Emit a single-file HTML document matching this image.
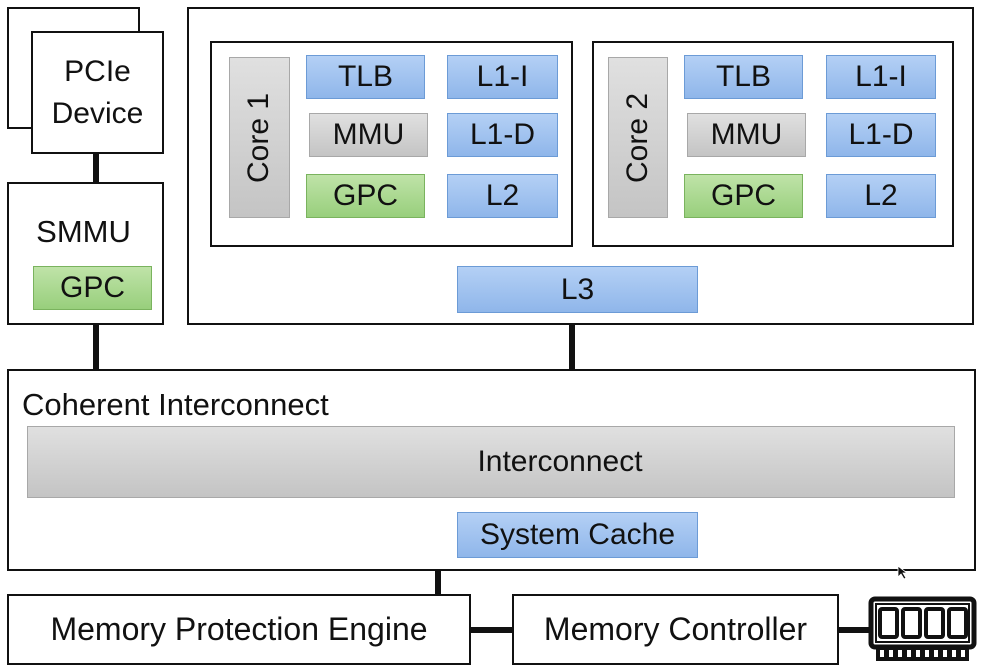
<!DOCTYPE html>
<html><head><meta charset="utf-8"><style>
body{margin:0;width:981px;height:669px;background:#fff;position:relative;overflow:hidden;font-family:"Liberation Sans",sans-serif;color:#111}
.b{position:absolute;box-sizing:border-box;border:2px solid #111;background:#fff}
.c{position:absolute;box-sizing:border-box;display:flex;align-items:center;justify-content:center;font-size:30px;white-space:nowrap}
.bl{background:linear-gradient(#b4d0f5,#8fb6ea);border:1px solid #6c9bd6}
.gr{background:linear-gradient(#e0e0e0,#c4c4c4);border:1px solid #a8a8a8}
.gn{background:linear-gradient(#bfe3a8,#98cf7c);border:1px solid #7ab35e}
.l{position:absolute;background:#111}
</style></head><body>
<div class="b" style="left:7px;top:7px;width:133px;height:122px"></div>
<div class="b c" style="left:31px;top:31px;width:133px;height:123px;border:2px solid #111;background:#fff;line-height:42px;text-align:center;white-space:normal">PCIe<br>Device</div>
<div class="l" style="left:93px;top:153px;width:6px;height:30px"></div>
<div class="b" style="left:7px;top:182px;width:157px;height:143px"></div>
<div class="c" style="left:7px;top:212px;width:153px;height:40px;font-size:31px">SMMU</div>
<div class="c gn" style="left:33px;top:266px;width:119px;height:44px">GPC</div>
<div class="l" style="left:93px;top:324px;width:6px;height:46px"></div>

<div class="b" style="left:187px;top:7px;width:787px;height:318px"></div>
<div class="b" style="left:210px;top:41px;width:363px;height:206px"></div>
<div class="c gr" style="left:229px;top:57px;width:61px;height:161px"><span style="transform:rotate(-90deg);white-space:nowrap">Core 1</span></div>
<div class="c bl" style="left:306px;top:55px;width:119px;height:44px">TLB</div>
<div class="c gr" style="left:309px;top:113px;width:119px;height:44px">MMU</div>
<div class="c gn" style="left:306px;top:174px;width:119px;height:44px">GPC</div>
<div class="c bl" style="left:447px;top:55px;width:111px;height:44px">L1-I</div>
<div class="c bl" style="left:447px;top:113px;width:111px;height:44px">L1-D</div>
<div class="c bl" style="left:447px;top:174px;width:111px;height:44px">L2</div>

<div class="b" style="left:592px;top:41px;width:362px;height:206px"></div>
<div class="c gr" style="left:608px;top:57px;width:60px;height:161px"><span style="transform:rotate(-90deg);white-space:nowrap">Core 2</span></div>
<div class="c bl" style="left:684px;top:55px;width:119px;height:44px">TLB</div>
<div class="c gr" style="left:687px;top:113px;width:119px;height:44px">MMU</div>
<div class="c gn" style="left:684px;top:174px;width:119px;height:44px">GPC</div>
<div class="c bl" style="left:826px;top:55px;width:110px;height:44px">L1-I</div>
<div class="c bl" style="left:826px;top:113px;width:110px;height:44px">L1-D</div>
<div class="c bl" style="left:826px;top:174px;width:110px;height:44px">L2</div>
<div class="c bl" style="left:457px;top:266px;width:241px;height:47px">L3</div>
<div class="l" style="left:569px;top:324px;width:6px;height:46px"></div>

<div class="b" style="left:7px;top:369px;width:969px;height:202px"></div>
<div style="position:absolute;left:22px;top:387px;font-size:31px;white-space:nowrap">Coherent Interconnect</div>
<div class="c gr" style="left:27px;top:426px;width:928px;height:72px;padding-left:138px">Interconnect</div>
<div class="c bl" style="left:457px;top:512px;width:241px;height:46px">System Cache</div>
<div class="l" style="left:435px;top:570px;width:6px;height:25px"></div>

<div class="b c" style="left:7px;top:594px;width:464px;height:71px;border:2px solid #111;font-size:32px">Memory Protection Engine</div>
<div class="l" style="left:470px;top:627px;width:43px;height:6px"></div>
<div class="b c" style="left:512px;top:594px;width:327px;height:71px;border:2px solid #111;font-size:32px">Memory Controller</div>
<div class="l" style="left:838px;top:627px;width:34px;height:6px"></div>
<svg style="position:absolute;left:868px;top:596px" width="110" height="66" viewBox="0 0 110 66">
<rect x="3" y="3" width="103" height="48" rx="4" fill="none" stroke="#111" stroke-width="5"/>
<rect x="8" y="8" width="93" height="38" fill="none" stroke="#111" stroke-width="2"/>
<g fill="none" stroke="#111" stroke-width="4">
<rect x="12" y="13" width="17" height="28" rx="2"/><rect x="35" y="13" width="17" height="28" rx="2"/>
<rect x="58" y="13" width="17" height="28" rx="2"/><rect x="81" y="13" width="17" height="28" rx="2"/></g>
<rect x="8" y="51" width="93" height="14" fill="#111"/>
<g fill="#fff"><rect x="12" y="54" width="4" height="7"/><rect x="21" y="54" width="4" height="7"/><rect x="30" y="54" width="4" height="7"/><rect x="39" y="54" width="4" height="7"/><rect x="48" y="54" width="4" height="7"/><rect x="57" y="54" width="4" height="7"/><rect x="66" y="54" width="4" height="7"/><rect x="75" y="54" width="4" height="7"/><rect x="84" y="54" width="4" height="7"/><rect x="93" y="54" width="4" height="7"/></g>
</svg>
<svg style="position:absolute;left:897px;top:565px" width="12" height="16"><path d="M1 1 L1 12 L4 9 L7 14 L9 13 L6 8 L10 8 Z" fill="#111" stroke="#fff" stroke-width="0.8"/></svg>
</body></html>
